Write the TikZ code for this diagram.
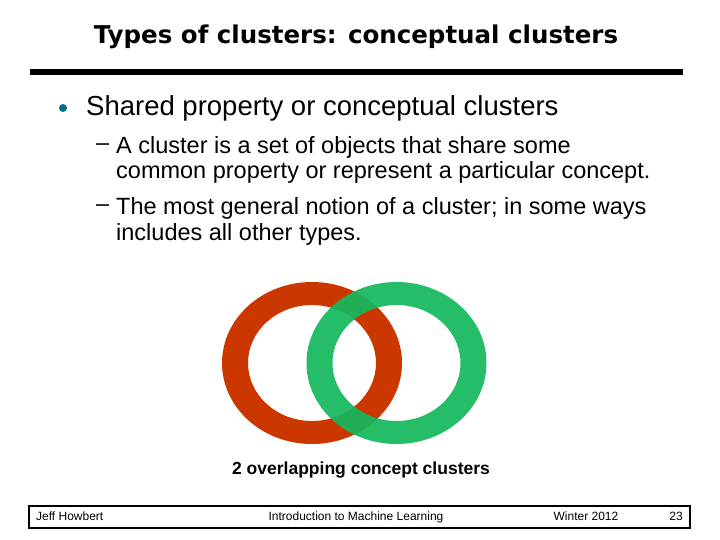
\documentclass[tikz,border=0pt]{standalone}
\usepackage{fontspec}
\setmainfont{Liberation Sans}
\newfontfamily\verd{DejaVu Sans}
\definecolor{ringred}{RGB}{204,55,0}
\definecolor{ringgreen}{RGB}{22,184,94}
\definecolor{bul}{RGB}{0,110,140}
\begin{document}
\begin{tikzpicture}[x=1pt,y=-1pt,
  body/.style={anchor=west,inner sep=0pt,font=\fontsize{23.5}{25}\selectfont},
  foot/.style={inner sep=0pt,anchor=base,font=\fontsize{12}{13}\selectfont}]
\useasboundingbox[fill=white] (0,0) rectangle (720,540);
\node[font=\verd\bfseries\fontsize{24.5}{28}\selectfont] (title) at (356,37) {Types of clusters: conceptual clusters};
\draw[line width=6pt] (30,72) -- (683,72);
\fill[bul] (63,108) circle (4);
\node[body,font=\fontsize{27.5}{30}\selectfont] (b1) at (86,108) {Shared property or conceptual clusters};
\node[body] (d1) at (96,147) {--};
\node[body] (t1) at (116,147) {A cluster is a set of objects that share some};
\node[body] (t1b) at (116,172) {common property or represent a particular concept.};
\node[body] (d2) at (96,208) {--};
\node[body] (t2) at (116,208) {The most general notion of a cluster; in some ways};
\node[body] (t2b) at (116,234) {includes all other types.};
\fill[ringred,even odd rule] (312,363) ellipse [x radius=90,y radius=81] (312,363) ellipse [x radius=64,y radius=58];
\fill[ringgreen,opacity=0.93,even odd rule] (396.5,363) ellipse [x radius=90,y radius=81] (396.5,363) ellipse [x radius=64,y radius=58];
\node[font=\bfseries\fontsize{17.5}{20}\selectfont] (cap) at (361,470) {2 overlapping concept clusters};
\draw[line width=1.8pt] (29,506) rectangle (690,528);
\node[foot,anchor=base west] (f1) at (36,520) {Jeff Howbert};
\node[foot] (f2) at (356,520) {Introduction to Machine Learning};
\node[foot] (f3) at (586,520) {Winter 2012};
\node[foot] (f4) at (676,520) {23};
\end{tikzpicture}
\end{document}
